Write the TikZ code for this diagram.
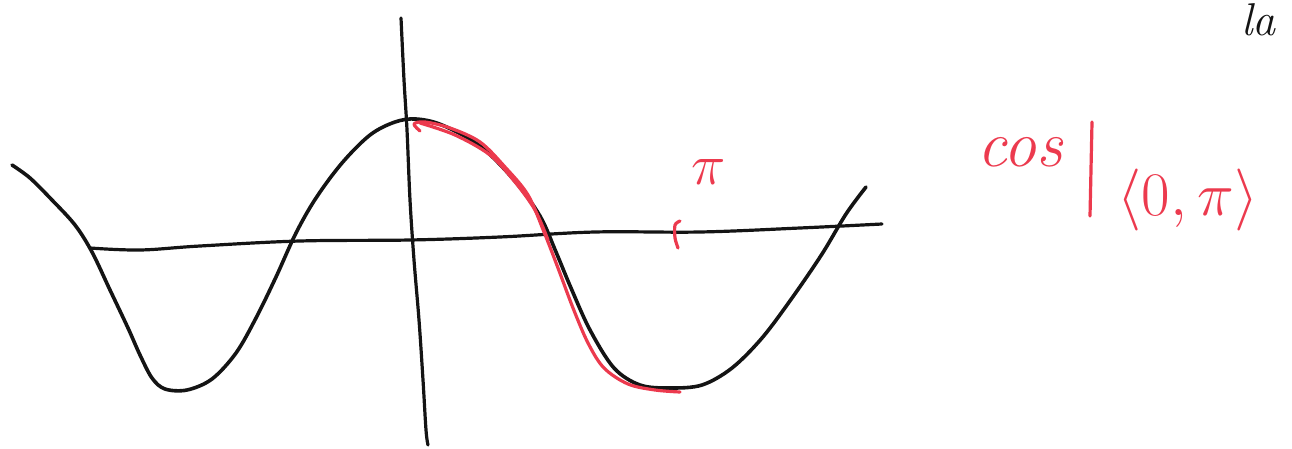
\RequirePackage{fix-cm}
\documentclass[tikz,border=0pt]{standalone}
\usepackage{fontspec}
\definecolor{inkred}{RGB}{236,58,78}
\definecolor{ink}{RGB}{20,20,20}
\begin{document}
\begin{tikzpicture}[x=1pt,y=-1pt,
  blackink/.style={draw=ink,line width=3.6pt,line cap=round,line join=round},
  redink/.style={draw=inkred,line width=3.2pt,line cap=round,line join=round},
  redtext/.style={text=inkred,inner sep=0pt,font=\itshape}]
\useasboundingbox (0,0) rectangle (1292,449);
% x axis
\draw[blackink,line width=3.2pt] plot[smooth,tension=0.6] coordinates {(90,248) (140,250) (200,246) (300,241) (410,240) (500,237) (595,232) (700,232) (800,228) (882,224)};
% y axis
\draw[blackink,line width=3.2pt] plot[smooth,tension=0.6] coordinates {(401,18) (404,80) (407,130) (410,200) (414,260) (419,320) (423,380) (426,430) (428,445)};
% black cosine curve
\draw[blackink] plot[smooth,tension=0.55] coordinates {(12,165) (30,178) (52,200) (75,225) (92,252) (110,290) (128,328) (140,355) (152,378) (165,389) (187,390) (212,379) (236,353) (256,318) (276,277) (296,233) (316,198) (342,163) (370,135) (395,122) (416,119) (442,125) (480,146) (514,180) (540,216) (556,252) (571,288) (590,330) (614,368) (640,385) (670,388) (702,385) (732,368) (762,338) (792,298) (822,254) (846,214) (866,187)};
% red overlay
\draw[redink] plot[smooth,tension=0.55] coordinates {(420,131) (414,124) (425,122) (450,128) (480,142) (505,167) (528,195) (544,232) (558,268) (573,308) (588,343) (604,368) (628,384) (655,390) (680,392)};
\draw[redink] plot[smooth,tension=0.55] coordinates {(420,123) (455,135) (490,155) (515,182) (535,210) (548,240)};
% red tick at pi
\draw[redink] plot[smooth,tension=0.5] coordinates {(680,221) (675,225) (675,238) (678,248)};
\node[redtext,font=\fontsize{58}{58}\selectfont] (pi) at (709,172) {$\pi$};
% restriction label
\node[redtext,font=\fontsize{66}{66}\selectfont\itshape] (cos) at (1020,152) {cos};
\draw[redink] (1092,122) -- (1090,216);
\node[redtext,font=\fontsize{62}{62}\selectfont] (interval) at (1188,200) {$\langle 0,\pi\rangle$};
% handwriting at top right
\node[text=ink,inner sep=0pt,font=\fontsize{46}{46}\selectfont\itshape,anchor=north east] (cut) at (1276,3) {la};
\end{tikzpicture}
\end{document}
